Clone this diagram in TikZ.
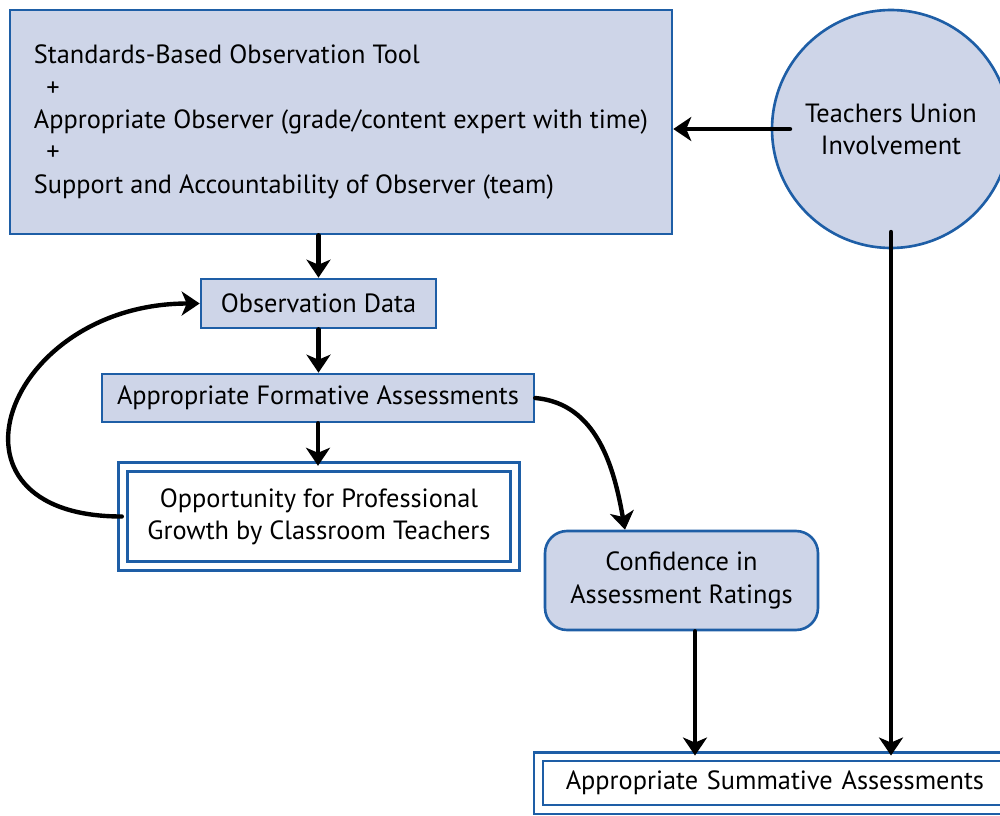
\documentclass[tikz,border=0pt]{standalone}
\usepackage{fontspec}
\setmainfont{PT Sans}
\usetikzlibrary{arrows.meta}
\definecolor{boxfill}{RGB}{206,213,232}
\definecolor{boxline}{RGB}{30,94,166}
\begin{document}
\begin{tikzpicture}[x=0.02cm,y=-0.02cm,
    every node/.style={font=\fontsize{15}{18.4}\selectfont},
    blk/.style={draw=boxline,fill=boxfill,line width=1.5pt,inner sep=0pt},
    dblk/.style={draw=boxline,double=white,double distance=0.13cm,line width=1.4pt,inner sep=0pt},
    flow/.style={line width=2.5pt,line cap=round,-{Stealth[length=0.36cm,width=0.48cm,inset=0.1cm]}}]
  \useasboundingbox (0,0) rectangle (1000,815);
  \node[blk,minimum width=13.24cm,minimum height=4.48cm,align=left] (tool) at (341,122)
    {Standards-Based Observation Tool\\ \hspace{0.25cm}+\\ Appropriate Observer (grade/content expert with time)\\ \hspace{0.25cm}+\\ Support and Accountability of Observer (team)};
  \node[blk,circle,minimum size=4.76cm,align=center] (union) at (891,129) {Teachers Union\\Involvement};
  \node[blk,minimum width=4.7cm,minimum height=0.98cm] (obs) at (318.5,303.5) {Observation Data};
  \node[blk,minimum width=8.64cm,minimum height=0.96cm] (form) at (318,398) {Appropriate Formative Assessments};
  \node[dblk,minimum width=7.84cm,minimum height=1.98cm,align=center] (opp) at (319,516.5)
    {Opportunity for Professional\\Growth by Classroom Teachers};
  \node[blk,rounded corners=0.44cm,minimum width=5.46cm,minimum height=1.98cm,align=center] (conf) at (681.5,580.5)
    {Confidence in\\Assessment Ratings};
  \node[dblk,minimum height=1.05cm,text width=8.53cm,inner xsep=0.55cm,align=left] (summ) at (779,783) {Appropriate Summative Assessments};
  \coordinate (ustart) at ([xshift=-2.02cm]union.center);
  \coordinate (udown) at ([yshift=-2.06cm]union.center);
  \draw[flow] (obs.north |- tool.south) -- (obs.north);
  \draw[flow] (obs.south) -- (obs.south |- form.north);
  \draw[flow] (form.south) -- (form.south |- opp.north);
  \draw[flow] (opp.west) to[out=180,in=180,looseness=2.2] (obs.west);
  \draw[flow] (form.east) to[out=-5,in=100] ([xshift=-1.13cm]conf.north);
  \draw[flow] ([xshift=0.27cm]conf.south) -- ([xshift=0.27cm]conf.south |- summ.north);
  \draw[flow] (ustart) -- (ustart -| tool.east);
  \draw[flow] (udown) -- (udown |- summ.north);
\end{tikzpicture}
\end{document}
